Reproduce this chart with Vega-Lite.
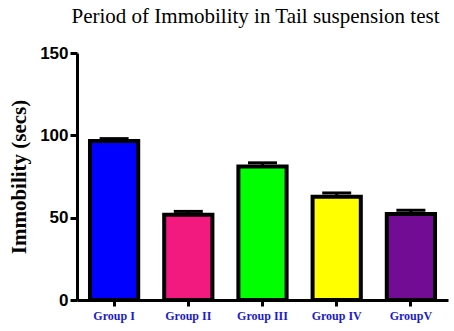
{
  "$schema": "https://vega.github.io/schema/vega-lite/v6.json",
  "width": 371,
  "height": 247,
  "autosize": "none",
  "padding": {"left": 77, "top": 53, "right": 6, "bottom": 31},
  "background": "white",
  "title": {
    "text": "Period of Immobility in Tail suspension test",
    "font": "Liberation Serif",
    "fontSize": 21,
    "fontWeight": "normal",
    "color": "black",
    "anchor": "middle",
    "dx": -7,
    "offset": 17
  },
  "data": {
    "values": [
      {"group": "Group I", "mean": 96.5, "hi": 98, "color": "#0000ff"},
      {"group": "Group II", "mean": 51.7, "hi": 53.8, "color": "#f2197f"},
      {"group": "Group III", "mean": 81, "hi": 83.3, "color": "#00ff00"},
      {"group": "Group IV", "mean": 62.7, "hi": 65, "color": "#ffff00"},
      {"group": "GroupV", "mean": 52.3, "hi": 54.5, "color": "#730c95"}
    ]
  },
  "encoding": {
    "x": {
      "field": "group",
      "type": "nominal",
      "sort": null,
      "scale": {"paddingInner": 0.35, "paddingOuter": 0.175},
      "axis": {
        "title": null,
        "labelAngle": 0,
        "labelFont": "Liberation Serif",
        "labelFontWeight": "bold",
        "labelFontSize": 12,
        "labelColor": "#1c1cc8",
        "labelPadding": 4,
        "tickSize": 6,
        "tickWidth": 3,
        "tickColor": "black",
        "domainWidth": 3,
        "domainColor": "black"
      }
    }
  },
  "layer": [
    {
      "mark": {"type": "bar", "stroke": "black", "strokeWidth": 4},
      "encoding": {
        "y": {
          "field": "mean",
          "type": "quantitative",
          "scale": {"domain": [0, 150], "nice": false},
          "axis": {
            "values": [0, 50, 100, 150],
            "title": "Immobility (secs)",
            "titleFont": "Liberation Serif",
            "titleFontWeight": "bold",
            "titleFontSize": 21,
            "titleColor": "black",
            "titlePadding": 10,
            "labelFont": "Liberation Sans",
            "labelFontWeight": "bold",
            "labelFontSize": 17,
            "labelColor": "black",
            "labelPadding": 2,
            "tickSize": 7,
            "tickWidth": 3,
            "tickColor": "black",
            "domainWidth": 3,
            "domainColor": "black",
            "grid": false
          }
        },
        "fill": {"field": "color", "type": "nominal", "scale": null, "legend": null}
      }
    },
    {
      "mark": {"type": "rule", "strokeWidth": 3, "color": "black"},
      "encoding": {
        "y": {"field": "mean", "type": "quantitative"},
        "y2": {"field": "hi"}
      }
    },
    {
      "mark": {"type": "tick", "thickness": 3, "size": 29, "color": "black", "opacity": 1},
      "encoding": {
        "y": {"field": "hi", "type": "quantitative"}
      }
    }
  ],
  "config": {
    "view": {"stroke": null}
  }
}
